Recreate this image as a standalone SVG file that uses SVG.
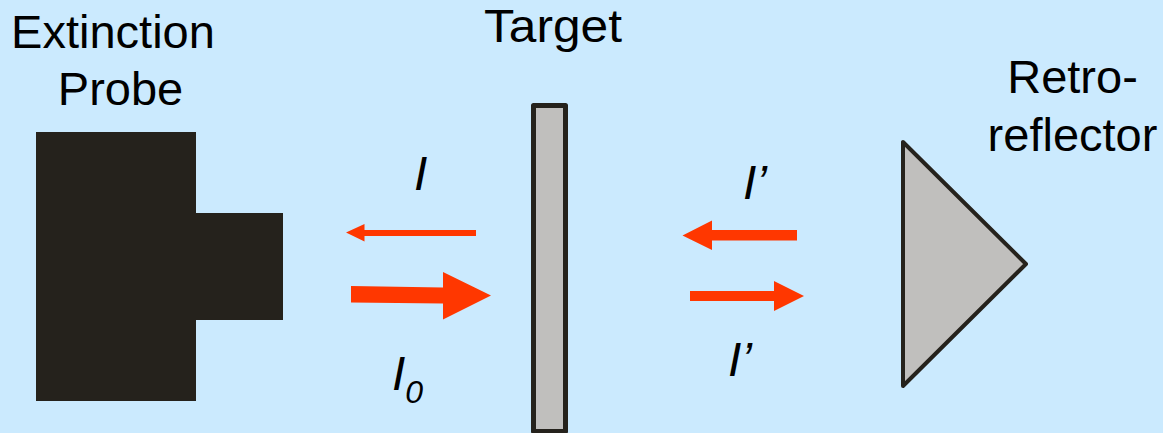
<svg xmlns="http://www.w3.org/2000/svg" width="1163" height="433" viewBox="0 0 1163 433">
<style>
text{font-family:"Liberation Sans",Arial,sans-serif;fill:#000}
.l{font-size:47px;text-anchor:middle}
.i{font-size:48px;font-style:italic}
.beam{fill:#ff3700}
.part{fill:#c0bfbd;stroke:#25221c;stroke-linejoin:round}
</style>
<rect width="1163" height="433" fill="#cbeafe"/>
<g id="probe">
<path d="M36 132H196V213H283V320H196V401H36Z" fill="#25221c"/>
<text class="l" x="113" y="48">Extinction</text>
<text class="l" x="120.500" y="105">Probe</text>
</g>
<g id="target">
<rect class="part" x="533.500" y="105.500" width="32" height="326" stroke-width="5"/>
<text class="l" x="553" y="41.700" style="font-size:46px" textLength="138" lengthAdjust="spacingAndGlyphs">Target</text>
</g>
<g id="retroreflector">
<path class="part" d="M903 142V386L1026 264Z" stroke-width="4"/>
<text class="l" x="1072.500" y="93">Retro-</text>
<text class="l" x="1072.500" y="151">reflector</text>
</g>
<g id="connectors">
<path id="beam-i" class="beam" d="M476 230V236H364.500V241.500L346 232.500L364.500 224V230Z"/>
<path id="beam-i0" class="beam" d="M351 286L443 287.500V272L491 295.500L443 319.500V303.500L351 302.500Z"/>
<path id="beam-ip-left" class="beam" d="M797 230V240.500H712V250L682.500 235.500L712 220.500V230Z"/>
<path id="beam-ip-right" class="beam" d="M690 291H774V281L804 296L774 311V301H690Z"/>
</g>
<g id="labels">
<text class="i" x="414" y="190">I</text>
<text class="i" x="392" y="390">I<tspan font-size="32" dy="13">0</tspan></text>
<text class="i" x="743" y="199">I’</text>
<text class="i" x="728" y="376">I’</text>
</g>
</svg>
